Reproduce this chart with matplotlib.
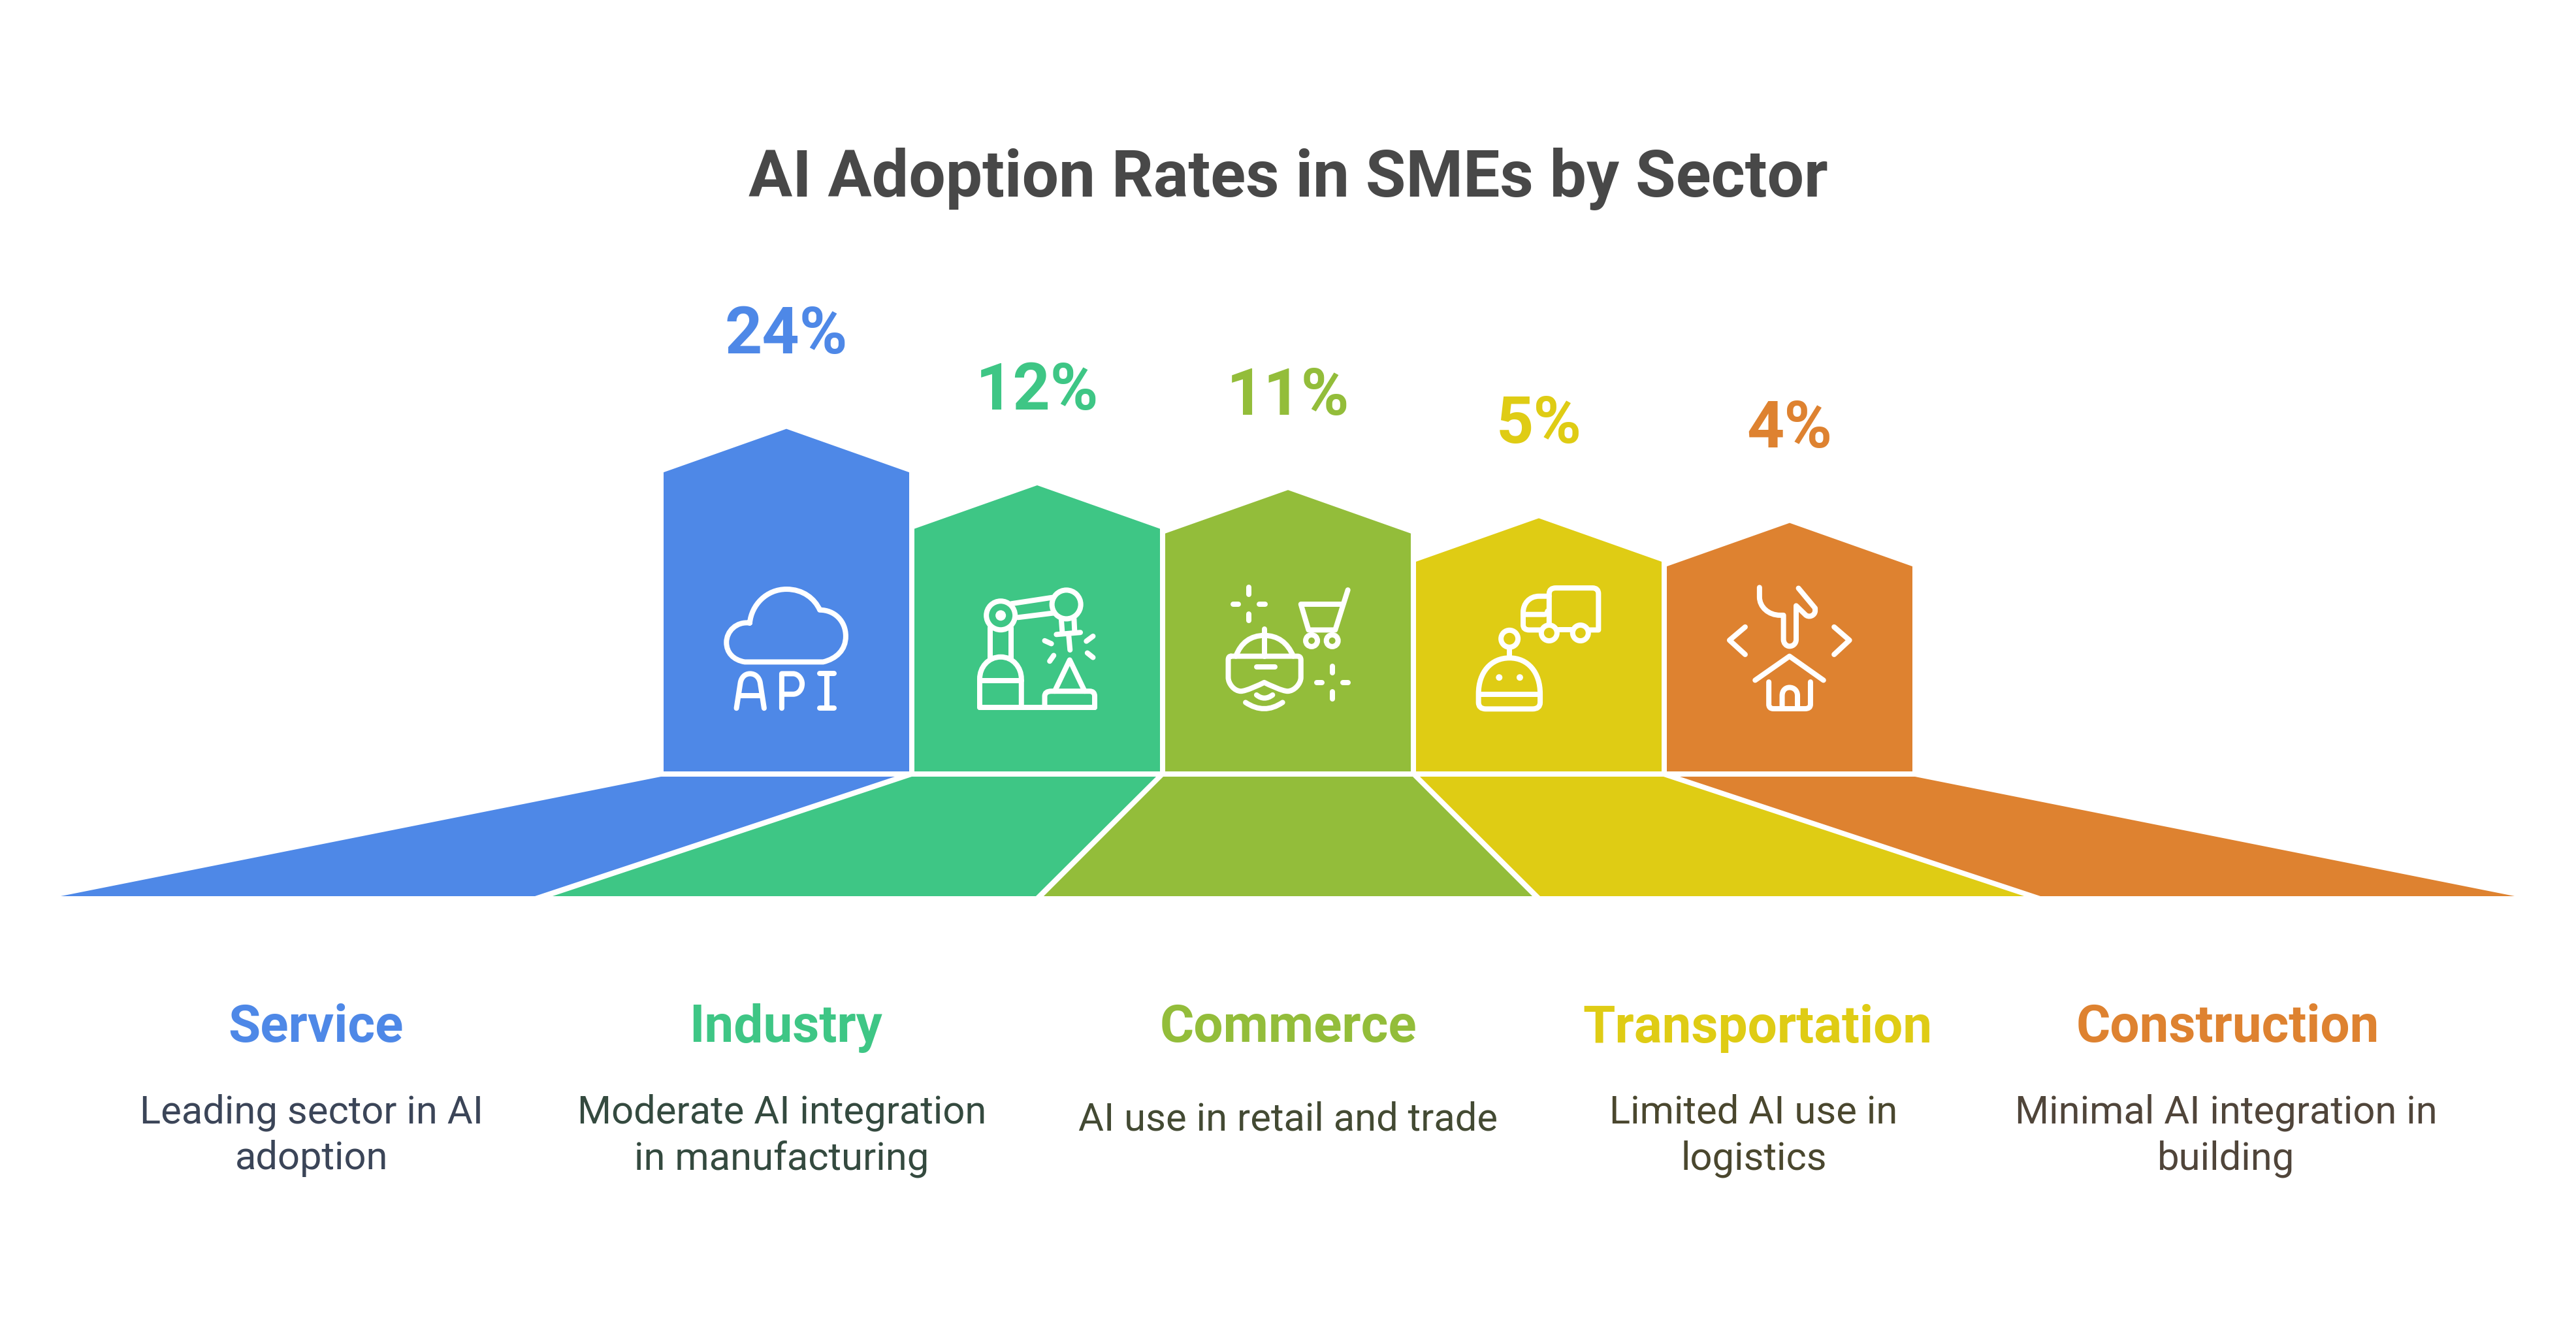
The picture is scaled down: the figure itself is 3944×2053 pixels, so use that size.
import matplotlib
matplotlib.use("Agg")
import re
import numpy as np
import matplotlib.pyplot as plt
from matplotlib.path import Path
from matplotlib.patches import PathPatch, Polygon

W, H = 3944, 2053
plt.rcParams['font.family'] = ['Roboto', 'DejaVu Sans']

# ---- data ----
sectors = ["Service", "Industry", "Commerce", "Transportation", "Construction"]
rates = [24, 12, 11, 5, 4]
descriptions = ["Leading sector in AI\nadoption", "Moderate AI integration\nin manufacturing",
                "AI use in retail and trade", "Limited AI use in\nlogistics",
                "Minimal AI integration in\nbuilding"]
colors = ["#4E88E7", "#3EC685", "#93BD3A", "#DFCC14", "#DE8230"]
desc_colors = ["#3B4558", "#344A3F", "#434A33", "#4A472E", "#50453A"]
title = "AI Adoption Rates in SMEs by Sector"

fig = plt.figure(figsize=(W / 100, H / 100), dpi=100, facecolor="white")

# Value axes: x = category index, y = adoption rate in percent
PX_PER_SLOT = 384.0
PX_PER_PCT = 7.2
X0, Y0 = 1204.0, 895.9
ax = fig.add_axes([0, 0, 1, 1])
ax.set_xlim(-X0 / PX_PER_SLOT, (W - X0) / PX_PER_SLOT)
ax.set_ylim((Y0 - H) / PX_PER_PCT, Y0 / PX_PER_PCT)
ax.axis("off")

BASE = (Y0 - 1181) / PX_PER_PCT
HALF = 188 / PX_PER_SLOT
ROOF = 66.5 / PX_PER_PCT
for i, (v, c) in enumerate(zip(rates, colors)):
    ax.add_patch(Polygon([(i - HALF, BASE), (i - HALF, v), (i, v + ROOF), (i + HALF, v), (i + HALF, BASE)],
                         closed=True, facecolor=c, edgecolor="none"))

# Overlay in pixels for the lower band, icons and text
ov = fig.add_axes([0, 0, 1, 1])
ov.set_xlim(0, W)
ov.set_ylim(H, 0)
ov.axis("off")
ov.patch.set_alpha(0)

band_top, band_bot = 1189, 1372
band_x = [(93, 1012, 1370, 819), (846, 1396, 1770, 1586), (1598, 1781, 2163, 2346),
          (2358, 2174, 2547, 3099), (3124, 2572, 2932, 3850)]
for bx, c in zip(band_x, colors):
    ov.add_patch(Polygon([(bx[0], band_bot), (bx[1], band_top), (bx[2], band_top), (bx[3], band_bot)],
                         closed=True, facecolor=c, edgecolor="none"))

LW = 8 * 0.72

def parse(d, x0, y0):
    verts, codes = [], []
    toks = re.findall(r"[MLCQZ]|-?\d+\.?\d*", d)
    i = 0
    tr = lambda a, b: (x0 + float(a) / 1.96, y0 + float(b) / 2.613)
    while i < len(toks):
        t = toks[i]; i += 1
        n = {"M": 1, "L": 1, "Q": 2, "C": 3, "Z": 0}[t]
        code = {"M": Path.MOVETO, "L": Path.LINETO, "Q": Path.CURVE3, "C": Path.CURVE4}.get(t)
        if t == "Z":
            verts.append(verts[0]); codes.append(Path.CLOSEPOLY)
            continue
        for k in range(n):
            verts.append(tr(toks[i], toks[i + 1])); codes.append(code); i += 2
    return Path(verts, codes)

def stroke(d, x0, y0, lw=LW):
    ov.add_patch(PathPatch(parse(d, x0, y0), facecolor="none", edgecolor="white", lw=lw,
                           capstyle="round", joinstyle="round"))

def circ(X, Y, r, x0, y0, fill=False):
    c = (x0 + X / 1.96, y0 + Y / 2.613)
    p = Path.unit_circle().transformed(matplotlib.transforms.Affine2D().scale(r).translate(*c))
    ov.add_patch(PathPatch(p, facecolor="white" if fill else "none", edgecolor="none" if fill else "white", lw=LW))

# Icon 1: cloud API
o = (1000, 620)
for d in ["M 290 872 C 295 800 340 737 400 737 C 450 737 485 775 500 820 C 545 820 578 865 578 925 C 578 980 550 1015 510 1028 L 275 1028 C 240 1020 220 990 220 950 C 220 905 250 865 290 872",
          "M 250 1213 L 262 1110 C 265 1090 275 1075 291 1075 C 307 1075 318 1090 321 1110 L 333 1213",
          "M 258 1163 L 325 1163",
          "M 386 1213 L 386 1075 L 420 1075 C 435 1075 447 1095 447 1115 C 447 1140 435 1157 420 1157 L 388 1157",
          "M 500 1075 L 543 1075 M 522 1075 L 522 1213 M 500 1213 L 543 1213"]:
    stroke(d, *o)

# Icon 2: robot arm
for d in ["M 1075 795 L 1198 770", "M 1095 850 L 1203 832",
          "M 1011 890 L 1011 1015", "M 1075 890 L 1075 1015",
          "M 980 1210 L 980 1095 C 980 1050 1005 1008 1043 1008 C 1080 1008 1105 1050 1105 1095 L 1105 1210",
          "M 980 1103 L 1105 1103", "M 980 1210 L 1325 1210",
          "M 1175 1210 L 1175 1165 Q 1175 1145 1195 1145 L 1310 1145 Q 1325 1145 1325 1165 L 1325 1210",
          "M 1205 1145 L 1250 1020 L 1295 1145",
          "M 1225 860 L 1228 915", "M 1263 855 L 1265 910", "M 1210 918 L 1282 910", "M 1247 920 L 1251 980",
          "M 1175 943 L 1195 955", "M 1300 945 L 1320 925", "M 1190 1025 L 1202 1002", "M 1303 992 L 1320 1010"]:
    stroke(d, *o)
circ(1043, 842, 22, *o)
circ(1043, 842, 8, *o, fill=True)
circ(1240, 798, 22, *o)

# Icon 3: VR and cart
o = (1780, 620)
for d in ["M 259 730 L 259 758", "M 259 835 L 259 862", "M 212 797 L 228 797", "M 290 797 L 307 797",
          "M 510 1045 L 510 1072", "M 510 1148 L 510 1176", "M 462 1110 L 478 1110", "M 540 1110 L 557 1110",
          "M 556 740 L 518 900 L 438 900 L 415 797 L 540 797",
          "M 220 1005 C 235 950 265 922 305 922 C 345 922 375 950 392 1005",
          "M 305 897 L 305 1005",
          "M 205 1005 L 405 1005 Q 415 1005 415 1020 L 415 1090 C 415 1115 395 1145 375 1145 C 360 1145 320 1120 305 1110 C 290 1120 250 1145 235 1145 C 215 1145 197 1115 197 1090 L 197 1020 Q 197 1005 205 1005",
          "M 282 1047 L 338 1047", "M 282 1160 Q 305 1185 330 1160", "M 249 1190 Q 305 1240 360 1190"]:
    stroke(d, *o)
circ(447, 943, 9, *o)
circ(509, 943, 9, *o)

# Icon 4: robot and truck
for d in ["M 1160 880 L 1160 755 Q 1160 732 1180 732 L 1290 732 Q 1308 732 1308 755 L 1308 900 L 1280 900",
          "M 1160 765 L 1130 765 C 1100 765 1082 795 1082 830 L 1082 880 Q 1082 900 1100 900 L 1135 900",
          "M 1082 838 L 1145 838 Q 1155 838 1155 825", "M 1187 900 L 1228 900",
          "M 1041 970 L 1041 1012",
          "M 948 1155 C 948 1070 985 1012 1041 1012 C 1097 1012 1133 1070 1133 1155 L 1133 1190 Q 1133 1216 1110 1216 L 970 1216 Q 948 1216 948 1190 Z",
          "M 948 1157 L 1133 1157"]:
    stroke(d, *o)
circ(1160, 912, 12, *o)
circ(1254, 912, 12, *o)
circ(1041, 935, 13, *o)
circ(1010, 1090, 5, *o, fill=True)
circ(1072, 1090, 5, *o, fill=True)

# Icon 5: wrench and house
o = (2200, 780)
for d in ["M 968 312 L 968 350 C 968 390 995 423 1030 423 L 1040 423 L 1040 520 C 1040 535 1048 547 1058 547 C 1070 547 1078 535 1078 520 L 1078 385 L 1105 420 C 1115 435 1135 425 1135 405 L 1135 395 L 1085 315",
          "M 925 470 L 878 523 L 925 580", "M 1192 470 L 1238 523 L 1192 580",
          "M 955 683 L 1058 587 L 1160 683",
          "M 996 690 L 996 780 Q 996 797 1010 797 L 1105 797 Q 1121 797 1121 780 L 1121 690",
          "M 1036 797 L 1036 745 C 1036 725 1045 712 1058 712 C 1072 712 1082 725 1082 745 L 1082 797"]:
    stroke(d, *o)

# Text
ov.text(1972, 274, title, ha="center", va="center", fontsize=72, fontweight="bold", color="#484848")

for i, (v, c) in enumerate(zip(rates, colors)):
    apex_px = Y0 - (v + ROOF) * PX_PER_PCT
    ov.text(X0 + i * PX_PER_SLOT, apex_px - 143, f"{v}%", ha="center", va="center",
            fontsize=72, fontweight="bold", color=c)

head_x = [483, 1203, 1972, 2691, 3411]
desc_x = [477, 1197, 1972, 2685, 3408]
for s, d, c, dc, hx, dx in zip(sectors, descriptions, colors, desc_colors, head_x, desc_x):
    ov.text(hx, 1574, s, ha="center", va="center", fontsize=57.6, fontweight="bold", color=c)
    lines = d.split("\n")
    ys = [1703, 1774] if len(lines) == 2 else [1714]
    for ln, y in zip(lines, ys):
        ov.text(dx, y, ln, ha="center", va="center", fontsize=43, color=dc)

fig.savefig("out.png", dpi=100, facecolor="white")
